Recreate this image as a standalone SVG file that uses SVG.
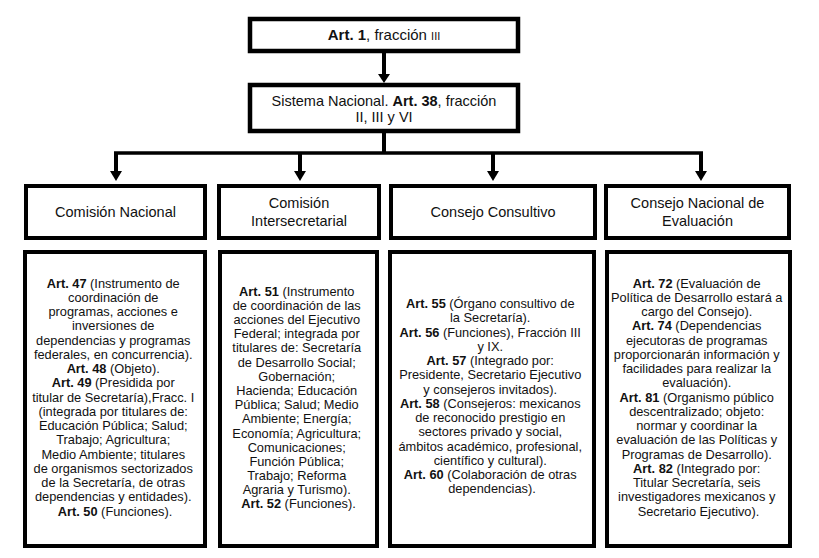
<svg xmlns="http://www.w3.org/2000/svg" width="819" height="558" viewBox="0 0 819 558">
<style>
.box{fill:#fff;stroke:#000;stroke-width:4.5}
.lbox{fill:#fff;stroke:#000;stroke-width:4}
.ln{stroke:#000;stroke-width:4;fill:none}
.hd{fill:#000}
text{font-family:"Liberation Sans",Arial,sans-serif;fill:#111;text-anchor:middle}
.t{font-size:14.5px}
.h{font-size:14.5px}
.bd{font-size:12.8px}
.b{font-weight:bold}
</style>
<rect width="819" height="558" fill="#fff"/>
<g id="connectors">
<line class="ln" x1="384" y1="53" x2="384" y2="76"/>
<polygon class="hd" points="378,74 390,74 384,83"/>
<line class="ln" x1="384" y1="133" x2="384" y2="153"/>
<line class="ln" x1="114" y1="153" x2="703" y2="153" style="stroke-width:3.5"/>
<line class="ln" x1="116" y1="153" x2="116" y2="173"/>
<polygon class="hd" points="110,171 122,171 116,181"/>
<line class="ln" x1="300" y1="153" x2="300" y2="173"/>
<polygon class="hd" points="294,171 306,171 300,181"/>
<line class="ln" x1="493" y1="153" x2="493" y2="173"/>
<polygon class="hd" points="487,171 499,171 493,181"/>
<line class="ln" x1="701" y1="153" x2="701" y2="173"/>
<polygon class="hd" points="695,171 707,171 701,181"/>
</g>
<g id="art1">
<rect class="box" x="250" y="19" width="268" height="32"/>
<text class="t" x="384" y="40" style="font-size:15px"><tspan class="b">Art. 1</tspan>, fracción  <tspan style="font-size:11px">III</tspan></text>
</g>
<g id="sistema">
<rect class="box" x="250" y="85" width="268" height="46"/>
<text class="t" x="384" y="106">Sistema Nacional. <tspan class="b">Art. 38</tspan>, fracción</text>
<text class="t" x="384" y="122">II, III y VI</text>
</g>
<g id="comision-nacional">
<rect class="lbox" x="26" y="186" width="179" height="52"/>
<text class="h" x="115.5" y="217">Comisión Nacional</text>
</g>
<g id="comision-intersecretarial">
<rect class="lbox" x="219" y="186" width="160" height="52"/>
<text class="h" x="299" y="208">Comisión</text>
<text class="h" x="299" y="226">Intersecretarial</text>
</g>
<g id="consejo-consultivo">
<rect class="lbox" x="391" y="186" width="204" height="52"/>
<text class="h" x="493" y="217">Consejo Consultivo</text>
</g>
<g id="consejo-evaluacion">
<rect class="lbox" x="606" y="186" width="183" height="52"/>
<text class="h" x="697.5" y="208">Consejo Nacional de</text>
<text class="h" x="697.5" y="226">Evaluación</text>
</g>
<g id="detalle-comision-nacional">
<rect class="lbox" x="25" y="252" width="180" height="294"/>
<text class="bd" x="115">
<tspan x="115" y="287.5"><tspan class="b">Art. 47</tspan> (Instrumento de</tspan>
<tspan x="115" dy="14.25">coordinación de</tspan>
<tspan x="115" dy="14.25">programas, acciones e</tspan>
<tspan x="115" dy="14.25">inversiones de</tspan>
<tspan x="115" dy="14.25">dependencias y programas</tspan>
<tspan x="115" dy="14.25">federales, en concurrencia).</tspan>
<tspan x="115" dy="14.25"><tspan class="b">Art. 48</tspan> (Objeto).</tspan>
<tspan x="115" dy="14.25"><tspan class="b">Art. 49</tspan> (Presidida por</tspan>
<tspan x="115" dy="14.25">titular de Secretaría),Fracc. I</tspan>
<tspan x="115" dy="14.25">(integrada por titulares de:</tspan>
<tspan x="115" dy="14.25">Educación Pública; Salud;</tspan>
<tspan x="115" dy="14.25">Trabajo; Agricultura;</tspan>
<tspan x="115" dy="14.25">Medio Ambiente; titulares</tspan>
<tspan x="115" dy="14.25">de organismos sectorizados</tspan>
<tspan x="115" dy="14.25">de la Secretaría, de otras</tspan>
<tspan x="115" dy="14.25">dependencias y entidades).</tspan>
<tspan x="115" dy="14.25"><tspan class="b">Art. 50</tspan> (Funciones).</tspan>
</text>
</g>
<g id="detalle-comision-intersecretarial">
<rect class="lbox" x="220" y="252" width="157" height="294"/>
<text class="bd" x="298.5">
<tspan x="298.5" y="295.5"><tspan class="b">Art. 51</tspan> (Instrumento</tspan>
<tspan x="298.5" dy="14.2">de coordinación de las</tspan>
<tspan x="298.5" dy="14.2">acciones del Ejecutivo</tspan>
<tspan x="298.5" dy="14.2">Federal; integrada por</tspan>
<tspan x="298.5" dy="14.2">titulares de: Secretaría</tspan>
<tspan x="298.5" dy="14.2">de Desarrollo Social;</tspan>
<tspan x="298.5" dy="14.2">Gobernación;</tspan>
<tspan x="298.5" dy="14.2">Hacienda; Educación</tspan>
<tspan x="298.5" dy="14.2">Pública; Salud; Medio</tspan>
<tspan x="298.5" dy="14.2">Ambiente; Energía;</tspan>
<tspan x="298.5" dy="14.2">Economía; Agricultura;</tspan>
<tspan x="298.5" dy="14.2">Comunicaciones;</tspan>
<tspan x="298.5" dy="14.2">Función Pública;</tspan>
<tspan x="298.5" dy="14.2">Trabajo; Reforma</tspan>
<tspan x="298.5" dy="14.2">Agraria y Turismo).</tspan>
<tspan x="298.5" dy="14.2"><tspan class="b">Art. 52</tspan> (Funciones).</tspan>
</text>
</g>
<g id="detalle-consejo-consultivo">
<rect class="lbox" x="390" y="252" width="204" height="294"/>
<text class="bd" x="492">
<tspan x="492" y="308"><tspan class="b">Art. 55</tspan> (Órgano consultivo de</tspan>
<tspan x="492" dy="14.25">la Secretaría).</tspan>
<tspan x="492" dy="14.25"><tspan class="b">Art. 56</tspan> (Funciones), Fracción III</tspan>
<tspan x="492" dy="14.25">y IX.</tspan>
<tspan x="492" dy="14.25"><tspan class="b">Art. 57</tspan> (Integrado por:</tspan>
<tspan x="492" dy="14.25">Presidente, Secretario Ejecutivo</tspan>
<tspan x="492" dy="14.25">y consejeros invitados).</tspan>
<tspan x="492" dy="14.25"><tspan class="b">Art. 58</tspan> (Consejeros: mexicanos</tspan>
<tspan x="492" dy="14.25">de reconocido prestigio en</tspan>
<tspan x="492" dy="14.25">sectores privado y social,</tspan>
<tspan x="492" dy="14.25">ámbitos académico, profesional,</tspan>
<tspan x="492" dy="14.25">científico y cultural).</tspan>
<tspan x="492" dy="14.25"><tspan class="b">Art. 60</tspan> (Colaboración de otras</tspan>
<tspan x="492" dy="14.25">dependencias).</tspan>
</text>
</g>
<g id="detalle-consejo-evaluacion">
<rect class="lbox" x="607" y="252" width="183" height="294"/>
<text class="bd" x="698.5">
<tspan x="698.5" y="287.5"><tspan class="b">Art. 72</tspan> (Evaluación de</tspan>
<tspan x="698.5" dy="14.25">Política de Desarrollo estará a</tspan>
<tspan x="698.5" dy="14.25">cargo del Consejo).</tspan>
<tspan x="698.5" dy="14.25"><tspan class="b">Art. 74</tspan> (Dependencias</tspan>
<tspan x="698.5" dy="14.25">ejecutoras de programas</tspan>
<tspan x="698.5" dy="14.25">proporcionarán información y</tspan>
<tspan x="698.5" dy="14.25">facilidades para realizar la</tspan>
<tspan x="698.5" dy="14.25">evaluación).</tspan>
<tspan x="698.5" dy="14.25"><tspan class="b">Art. 81</tspan> (Organismo público</tspan>
<tspan x="698.5" dy="14.25">descentralizado; objeto:</tspan>
<tspan x="698.5" dy="14.25">normar y coordinar la</tspan>
<tspan x="698.5" dy="14.25">evaluación de las Políticas y</tspan>
<tspan x="698.5" dy="14.25">Programas de Desarrollo).</tspan>
<tspan x="698.5" dy="14.25"><tspan class="b">Art. 82</tspan> (Integrado por:</tspan>
<tspan x="698.5" dy="14.25">Titular Secretaría, seis</tspan>
<tspan x="698.5" dy="14.25">investigadores mexicanos y</tspan>
<tspan x="698.5" dy="14.25">Secretario Ejecutivo).</tspan>
</text>
</g>
</svg>
